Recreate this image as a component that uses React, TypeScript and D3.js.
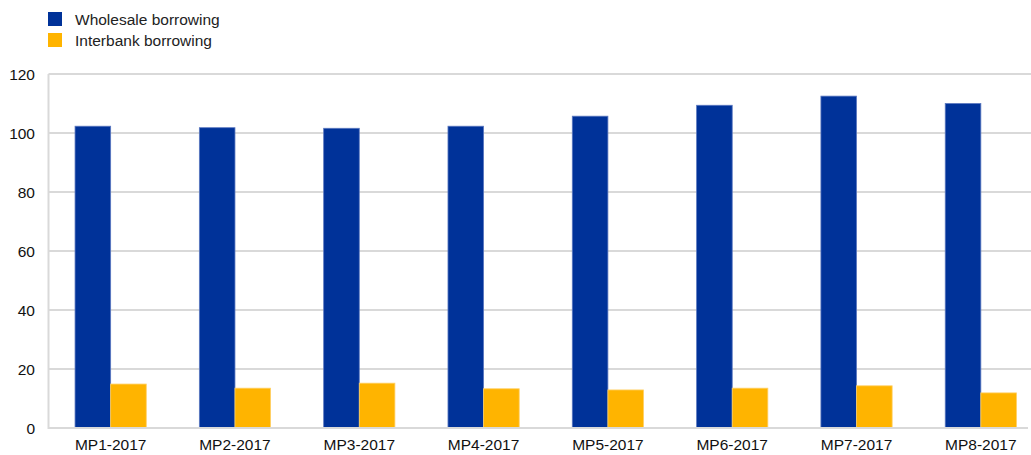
import * as d3 from "d3";
import React from "react";

const categories = ["MP1-2017", "MP2-2017", "MP3-2017", "MP4-2017", "MP5-2017", "MP6-2017", "MP7-2017", "MP8-2017"];
const wholesale = [102.3, 101.8, 101.6, 102.3, 105.7, 109.4, 112.5, 110.0];
const interbank = [14.9, 13.5, 15.2, 13.3, 12.9, 13.5, 14.3, 11.9];
const yTicks = [0, 20, 40, 60, 80, 100, 120];
const seriesNames = ["Wholesale borrowing", "Interbank borrowing"];
const colors = ["#003299", "#FFB400"];
const strokes = ["#5b78c0", "#ffd066"];

const W = 1031;
const H = 455;
// the plot area runs a little past the right edge of the picture
const plotRight = 1043;
const margin = { left: 48.5, top: 74, bottom: 27 };

const App: React.FC = () => {
  const x = d3
    .scaleBand<string>()
    .domain(categories)
    .range([margin.left, plotRight])
    .paddingInner(0.427)
    .paddingOuter(0.2135);
  const inner = d3
    .scaleBand<number>()
    .domain([0, 1])
    .range([0, x.bandwidth()]);
  const y = d3.scaleLinear().domain([0, 120]).range([H - margin.bottom, margin.top]);
  const series = [wholesale, interbank];
  const font = "'Liberation Sans', Arial, sans-serif";

  return (
    <svg width={W} height={H} style={{ position: "absolute", left: 0, top: 0, fontFamily: font }}>
      {/* legend */}
      {seriesNames.map((name, i) => (
        <g key={name} transform={`translate(48, ${12 + i * 21})`}>
          <rect width={14} height={14} fill={colors[i]} />
          <text x={27} y={12.5} fontSize={15.5} fill="#222">
            {name}
          </text>
        </g>
      ))}

      {/* grid */}
      {yTicks.map((t) => (
        <g key={t}>
          {t > 0 && (
            <line x1={margin.left} x2={W} y1={y(t)} y2={y(t)} stroke="#d9d9d9" strokeWidth={2} />
          )}
          <text x={35} y={y(t) + 5.5} fontSize={15.5} textAnchor="end" fill="#111">
            {t}
          </text>
        </g>
      ))}

      {/* bars */}
      {series.map((vals, s) =>
        categories.map((c, i) => (
          <rect
            key={`${s}-${c}`}
            x={(x(c) ?? 0) + (inner(s) ?? 0)}
            y={y(vals[i])}
            width={inner.bandwidth()}
            height={y(0) - y(vals[i])}
            fill={colors[s]}
            stroke={strokes[s]}
            strokeWidth={0.8}
          />
        ))
      )}

      {/* axes */}
      <line x1={margin.left} x2={margin.left} y1={y(120)} y2={y(0) + 1} stroke="#d9d9d9" strokeWidth={2} />
      <line x1={margin.left} x2={1028} y1={y(0)} y2={y(0)} stroke="#d9d9d9" strokeWidth={2} />

      {categories.map((c) => (
        <text key={c} x={(x(c) ?? 0) + x.bandwidth() / 2} y={450} fontSize={15.5} textAnchor="middle" fill="#111">
          {c}
        </text>
      ))}
    </svg>
  );
};

export default App;
